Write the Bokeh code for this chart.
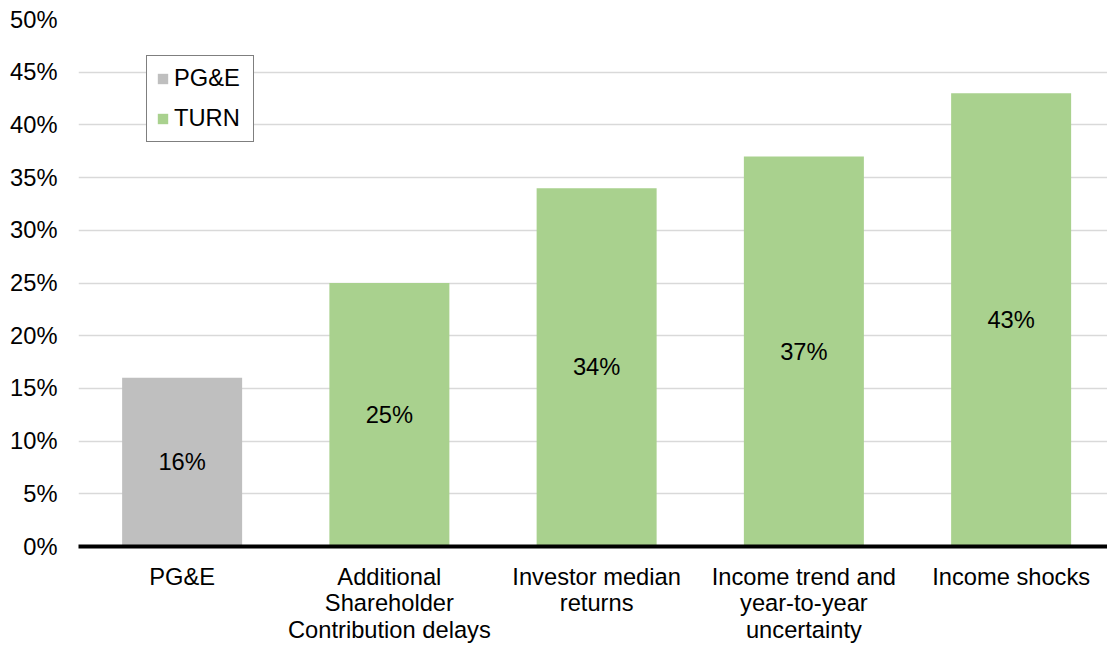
from bokeh.plotting import figure
from bokeh.models import ColumnDataSource, Range1d, FixedTicker, Legend, LegendItem
from bokeh.core.properties import value
from bokeh.embed import file_html
from bokeh.resources import INLINE

categories = ["PG&E", "Additional\nShareholder\nContribution delays", "Investor median\nreturns",
              "Income trend and\nyear-to-year\nuncertainty", "Income shocks"]
values = [16, 25, 34, 37, 43]
groups = ["PG&E", "TURN", "TURN", "TURN", "TURN"]
labels = ["16%", "25%", "34%", "37%", "43%"]
y_ticks = [0, 5, 10, 15, 20, 25, 30, 35, 40, 45, 50]
y_tick_labels = ["0%", "5%", "10%", "15%", "20%", "25%", "30%", "35%", "40%", "45%", "50%"]

color_map = {"PG&E": "#BFBFBF", "TURN": "#A9D18E"}
colors = [color_map[g] for g in groups]
xpos = [i + 0.5 for i in range(len(categories))]

src = ColumnDataSource(dict(x=xpos, top=values, half=[v / 2 for v in values],
                            group=groups, color=colors, label=labels))

FONT = "Liberation Sans"
FS = "23.7px"

p = figure(x_range=Range1d(0, 4.965), y_range=Range1d(0, 50),
           width=1107, height=645, output_backend="svg", toolbar_location=None,
           min_border_left=78, min_border_right=0, min_border_top=19, min_border_bottom=97)
p.outline_line_color = None
p.background_fill_color = "white"
p.border_fill_color = "white"

bars = p.vbar(x="x", top="top", width=0.579, fill_color="color", line_color=None, source=src)

p.text(x="x", y="half", text="label", source=src, text_align="center", text_baseline="middle",
       text_font=value(FONT), text_font_size=FS, text_color="#000000")

legend = Legend(items=[LegendItem(label="PG&E", renderers=[bars], index=0),
                       LegendItem(label="TURN", renderers=[bars], index=1)],
                location=(68, 404), orientation="vertical",
                label_text_font=FONT, label_text_font_size=FS, label_text_color="#000000",
                label_height=24, label_width=70, glyph_height=13, glyph_width=13, spacing=13,
                padding=9, margin=0, label_standoff=5,
                border_line_color="black", border_line_width=1.5,
                background_fill_color="white", background_fill_alpha=1.0)
p.add_layout(legend)

# y axis
p.yaxis.ticker = FixedTicker(ticks=y_ticks)
p.yaxis.major_label_overrides = {t: l for t, l in zip(y_ticks, y_tick_labels)}
p.yaxis.axis_line_color = None
p.yaxis.major_tick_line_color = None
p.yaxis.minor_tick_line_color = None
p.yaxis.major_tick_out = 0
p.yaxis.major_label_standoff = 21
p.yaxis.major_label_text_font = FONT
p.yaxis.major_label_text_font_size = FS
p.yaxis.major_label_text_color = "#000000"

p.ygrid.grid_line_color = "#D9D9D9"
p.ygrid.grid_line_width = 1.5
p.xgrid.grid_line_color = None

# x axis
p.xaxis.ticker = FixedTicker(ticks=xpos)
p.xaxis.major_label_overrides = {x: c for x, c in zip(xpos, categories)}
p.xaxis.axis_line_color = "black"
p.xaxis.axis_line_width = 4
p.xaxis.major_tick_line_color = None
p.xaxis.minor_tick_line_color = None
p.xaxis.major_tick_out = 0
p.xaxis.major_label_standoff = 17
p.xaxis.major_label_text_font = FONT
p.xaxis.major_label_text_font_size = FS
p.xaxis.major_label_text_color = "#000000"
p.xaxis.major_label_text_line_height = 1.02

open("out.html", "w").write(file_html(p, INLINE))
